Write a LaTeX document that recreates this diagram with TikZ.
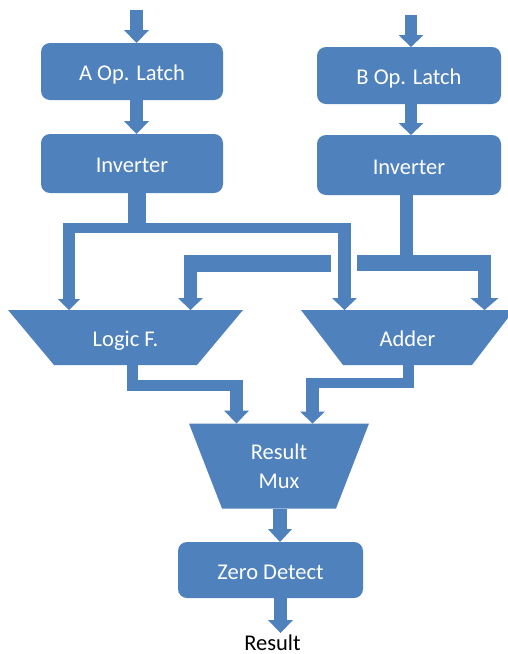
\documentclass[tikz,border=0pt]{standalone}
\usepackage{fontspec}
\setmainfont{Carlito}
\usetikzlibrary{arrows.meta,backgrounds}
\definecolor{blockblue}{HTML}{4F81BD}

\begin{document}
\begin{tikzpicture}[x=1pt,y=-1pt,
  boxtext/.style={text=white, font=\fontsize{22.5}{27}\selectfont, inner sep=0pt, outer sep=0pt},
  stagebox/.style={boxtext, fill=blockblue, rounded corners=9pt, text height=18pt, text depth=0pt},
  trapbox/.style={boxtext},
  wire/.style={draw=blockblue, line cap=butt, line width=#1},
  flow/.style n args={3}{draw=blockblue, line cap=butt, line width=#1,
    -{Triangle[width=#2, length=#3, line width=0pt]}}
]
\useasboundingbox (0,0) rectangle (508,654);

% ---- operand latches and inverters ----
\node[stagebox, minimum width=182pt, minimum height=57pt] (alatch) at (132,71.5) {A Op. Latch};
\node[stagebox, minimum width=182pt, minimum height=59pt] (ainv)   at (132,163.5) {Inverter};
\node[stagebox, minimum width=184pt, minimum height=57pt] (blatch) at (409,75.5) {B Op. Latch};
\node[stagebox, minimum width=184pt, minimum height=60pt] (binv)   at (409,165) {Inverter};

% ---- function units and result mux ----
\node[trapbox, text height=18pt, text depth=0pt, minimum width=235pt, minimum height=55pt] (logic) at (125.5,337.5) {Logic F.};
\node[trapbox, text height=18pt, text depth=0pt, minimum width=213pt, minimum height=55pt] (adder) at (407.5,337.5) {Adder};
\node[trapbox, align=center, font=\fontsize{22.5}{29}\selectfont, minimum width=180pt, minimum height=85pt] (mux) at (279,466) {Result\\Mux};

\node[stagebox, minimum width=185pt, minimum height=56pt] (zero) at (270.5,570) {Zero Detect};
\node[anchor=base, font=\fontsize{22.5}{27}\selectfont, inner sep=0pt] (result) at (272.5,650.5) {Result};

\begin{scope}[on background layer]
  \fill[blockblue] (logic.north west) -- (logic.north east)
    -- ([xshift=-46pt]logic.south east) -- ([xshift=46pt]logic.south west) -- cycle;
  \fill[blockblue] (adder.north west) -- (adder.north east)
    -- ([xshift=-42pt]adder.south east) -- ([xshift=42pt]adder.south west) -- cycle;
  \fill[blockblue] (mux.north west) -- (mux.north east)
    -- ([xshift=-33pt]mux.south east) -- ([xshift=33pt]mux.south west) -- cycle;
\end{scope}

% ---- bus junction points ----
\coordinate (ain)  at (136.5,10);
\coordinate (bin)  at (411,15);
\coordinate (abus) at (137,228);
\coordinate (aL)   at (69,228);
\coordinate (aR)   at (344.5,228);
\coordinate (bbus) at (406.5,263);
\coordinate (bRa)  at (357,263);
\coordinate (bR)   at (484.5,263);
\coordinate (bLa)  at (331,263.5);
\coordinate (bL)   at (190.5,263.5);
\coordinate (lbus) at (132.5,385.5);
\coordinate (lm)   at (236.5,385.5);
\coordinate (rbus) at (408.5,383);
\coordinate (rm)   at (312.5,383);
\coordinate (mx)   at (280,500);
\coordinate (out)  at (280.5,633);

% ---- operand inputs ----
\draw[flow={13pt}{25pt}{13pt}] (ain) -- (ain |- alatch.north);
\draw[flow={13pt}{25pt}{13pt}] (alatch.south -| ain) -- (ainv.north -| ain);
\draw[flow={12pt}{25pt}{12pt}] (bin) -- (bin |- blatch.north);
\draw[flow={12pt}{25pt}{12pt}] (blatch.south -| bin) -- (binv.north -| bin);

% ---- A operand bus ----
\draw[wire=18pt] (ainv.south -| abus) -- (abus);
\draw[wire=10pt] ([xshift=-6pt]aL) -- ([xshift=6.5pt]aR);
\draw[flow={12pt}{22pt}{11pt}] (aL) -- (aL |- logic.north);
\draw[flow={13pt}{25pt}{12pt}] ([yshift=-5pt]aR) -- (aR |- adder.north);

% ---- B operand bus (hops over the A line) ----
\draw[wire=13pt] (binv.south -| bbus) -- (bbus);
\draw[wire=16pt] (bRa) -- ([xshift=6pt]bR);
\draw[flow={13pt}{28pt}{12pt}] (bR) -- (bR |- adder.north);
\draw[wire=17pt] (bLa) -- ([xshift=-6.5pt]bL);
\draw[flow={13pt}{25pt}{12pt}] (bL) -- (bL |- logic.north);

% ---- function outputs into the mux ----
\draw[wire=11pt] (logic.south -| lbus) -- (lbus);
\draw[wire=11pt] ([xshift=-5.5pt]lbus) -- ([xshift=6.5pt]lm);
\draw[flow={13pt}{25pt}{13pt}] ([yshift=-5.5pt]lm) -- (lm |- mux.north);
\draw[wire=11pt] (adder.south -| rbus) -- ([yshift=5pt]rbus);
\draw[wire=10pt] ([xshift=5.5pt]rbus) -- ([xshift=-6.5pt]rm);
\draw[flow={13pt}{25pt}{12pt}] ([yshift=-5pt]rm) -- (rm |- mux.north);

% ---- result path ----
\draw[flow={14pt}{24pt}{13pt}] (mux.south -| mx) -- (zero.north -| mx);
\draw[flow={13pt}{25pt}{13pt}] (zero.south -| out) -- (out);
\end{tikzpicture}
\end{document}
